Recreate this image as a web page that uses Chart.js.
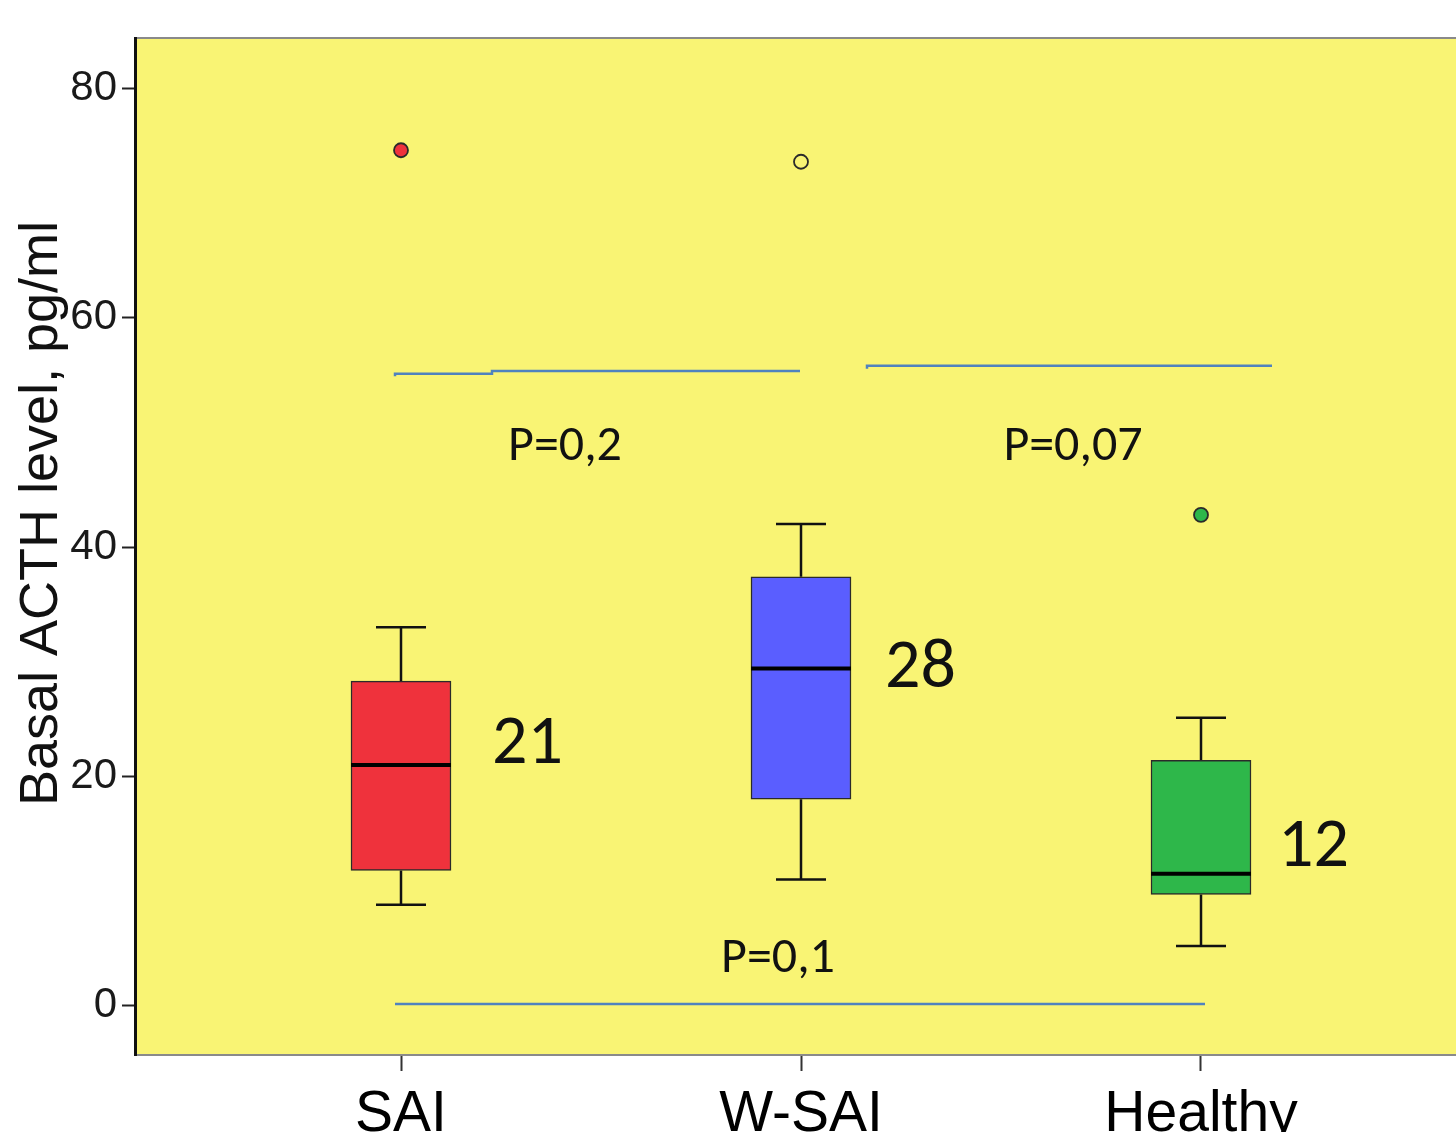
<!DOCTYPE html>
<html>
<head>
<meta charset="utf-8">
<script src="https://cdn.jsdelivr.net/npm/chart.js@4.4.1/dist/chart.umd.min.js"></script>
<style>
  html, body { margin: 0; padding: 0; background: #fff; }
  #acthChart { display: block; }
</style>
</head>
<body>
<canvas id="acthChart" width="1456" height="1132"></canvas>
<script>
// groups and box plot statistics (pg/ml)
const groups = ['SAI', 'W-SAI', 'Healthy'];
const groupPos = [1, 2, 3];
const whiskerLow = [8.8, 11.0, 5.2];
const q1 = [11.8, 18.0, 9.7];
const median = [21.0, 29.4, 11.5];
const q3 = [28.3, 37.4, 21.4];
const whiskerHigh = [33.0, 42.0, 25.1];
const outliers = [74.6, 73.6, 42.8];
const medianLabels = ['21', '28', '12'];
const yTicks = [0, 20, 40, 60, 80];

// comparison brackets (slightly stepped, as in the original figure)
const pairAX = [0.985, 1.2275, 1.865, 1.9975];
const pairAY = [54.9, 55.1, 55.35, 55.35];
const pairBX = [2.165, 2.68, 3.1775];
const pairBY = [55.55, 55.8, 55.8];
const pairCX = [0.985, 3.01];
const pairCY = [0.15, 0.15];
const pValues = ['P=0,2', 'P=0,07', 'P=0,1'];

// where the annotation texts sit, in axis units
const pValueSpots = [{ x: 1.41, y: 47.6 }, { x: 2.68, y: 47.6 }, { x: 1.9425, y: 2.9 }];
const medianLabelSpots = [{ x: 1.2275, y: 21.2 }, { x: 2.21, y: 27.8 }, { x: 3.1925, y: 12.2 }];

const boxColors = ['#ef323c', '#5a5eff', '#2eb74a'];
const outlierFill = ['#ef323c', 'rgba(0,0,0,0)', '#2eb74a'];
const capHalf = 0.0625;
const boxHalf = 0.125;

const whiskerPts = [];
const medianPts = [];
groupPos.forEach((x, i) => {
    whiskerPts.push(
        { x, y: q3[i] }, { x, y: whiskerHigh[i] }, { x, y: null },
        { x: x - capHalf, y: whiskerHigh[i] }, { x: x + capHalf, y: whiskerHigh[i] }, { x, y: null },
        { x, y: q1[i] }, { x, y: whiskerLow[i] }, { x, y: null },
        { x: x - capHalf, y: whiskerLow[i] }, { x: x + capHalf, y: whiskerLow[i] }, { x, y: null }
    );
    medianPts.push({ x: x - boxHalf, y: median[i] }, { x: x + boxHalf, y: median[i] }, { x, y: null });
});

const toPoints = (xs, ys) => xs.map((x, i) => ({ x, y: ys[i] }));

const bracketStyle = {
    type: 'line',
    borderColor: '#5082be',
    borderWidth: 2.5,
    pointRadius: 0,
    stepped: 'after',
    order: 4,
};

const plotDecor = {
    id: 'plotDecor',
    beforeDraw(chart) {
        const { ctx, chartArea: a } = chart;
        ctx.save();
        ctx.fillStyle = '#ffffff';
        ctx.fillRect(0, 0, chart.width, chart.height);
        ctx.fillStyle = '#f9f474';
        ctx.fillRect(a.left, a.top, a.right - a.left, a.bottom - a.top);
        ctx.strokeStyle = '#8a8a8a';
        ctx.lineWidth = 2;
        ctx.beginPath();
        ctx.moveTo(a.left, a.top);
        ctx.lineTo(a.right, a.top);
        ctx.stroke();
        ctx.restore();
    },
    afterDatasetsDraw(chart) {
        const { ctx, scales: { x, y } } = chart;
        ctx.save();
        ctx.fillStyle = '#111';
        ctx.textBaseline = 'alphabetic';

        ctx.font = '50px Carlito, Calibri, Lato, sans-serif';
        ctx.textAlign = 'center';
        pValues.forEach((t, i) => {
            ctx.fillText(t, x.getPixelForValue(pValueSpots[i].x), y.getPixelForValue(pValueSpots[i].y));
        });

        ctx.font = '70px Carlito, Calibri, Lato, sans-serif';
        ctx.textAlign = 'left';
        medianLabels.forEach((t, i) => {
            ctx.fillText(t, x.getPixelForValue(medianLabelSpots[i].x), y.getPixelForValue(medianLabelSpots[i].y));
        });

        // y axis title
        const a = chart.chartArea;
        ctx.translate(57, (a.top + a.bottom) / 2 - 33);
        ctx.rotate(-Math.PI / 2);
        ctx.textAlign = 'center';
        ctx.font = '54px "Liberation Sans", Arial, sans-serif';
        ctx.fillText('Basal ACTH level, pg/ml', 0, 0);
        ctx.restore();
    },
};

new Chart(document.getElementById('acthChart'), {
    type: 'line',
    data: {
        datasets: [
            {
                type: 'line',
                label: 'Median',
                data: medianPts,
                borderColor: '#000',
                borderWidth: 4,
                pointRadius: 0,
                order: 0,
            },
            {
                type: 'bar',
                label: 'IQR',
                data: groupPos.map((x, i) => ({ x, y: [q1[i], q3[i]] })),
                backgroundColor: boxColors,
                borderColor: '#2a2a2a',
                borderWidth: 1.5,
                borderSkipped: false,
                barThickness: 100,
                order: 1,
            },
            {
                type: 'line',
                label: 'Whiskers',
                data: whiskerPts,
                borderColor: '#111',
                borderWidth: 2.5,
                pointRadius: 0,
                order: 2,
            },
            {
                type: 'scatter',
                label: 'Outliers',
                data: groupPos.map((x, i) => ({ x, y: outliers[i] })),
                pointRadius: 7,
                pointBackgroundColor: outlierFill,
                pointBorderColor: '#2a2a2a',
                pointBorderWidth: 1.8,
                showLine: false,
                order: 3,
            },
            { ...bracketStyle, label: 'SAI vs W-SAI', data: toPoints(pairAX, pairAY) },
            { ...bracketStyle, label: 'W-SAI vs Healthy', data: toPoints(pairBX, pairBY) },
            { ...bracketStyle, label: 'SAI vs Healthy', data: toPoints(pairCX, pairCY), stepped: false },
        ],
    },
    options: {
        responsive: false,
        animation: false,
        layout: { autoPadding: false, padding: { top: 38, right: 0, bottom: 0, left: 0 } },
        plugins: {
            legend: { display: false },
            tooltip: { enabled: false },
        },
        scales: {
            x: {
                type: 'linear',
                min: 0.335,
                max: 3.6375,
                offset: false,
                afterBuildTicks(scale) {
                    scale.ticks = groupPos.map((v) => ({ value: v }));
                },
                afterFit(scale) {
                    scale.height = 77;
                    scale.paddingLeft = 0;
                    scale.paddingRight = 0;
                },
                ticks: {
                    autoSkip: false,
                    maxRotation: 0,
                    padding: 10,
                    color: '#000',
                    font: { family: '"Liberation Sans", Arial, sans-serif', size: 57 },
                    callback(value) {
                        const i = groupPos.indexOf(value);
                        return i >= 0 ? groups[i] : '';
                    },
                },
                grid: { drawOnChartArea: false, offset: false, tickLength: 16, tickColor: '#333', tickWidth: 2 },
                border: { color: '#8a8a8a', width: 2 },
            },
            y: {
                type: 'linear',
                min: -4.3,
                max: 84.39,
                afterBuildTicks(scale) {
                    scale.ticks = yTicks.map((v) => ({ value: v }));
                },
                afterFit(scale) {
                    scale.width = 135;
                    scale.paddingTop = 0;
                    scale.paddingBottom = 0;
                },
                ticks: {
                    padding: 5,
                    color: '#1a1a1a',
                    font: { family: '"Liberation Sans", Arial, sans-serif', size: 42 },
                },
                grid: { drawOnChartArea: false, tickLength: 13, tickColor: '#222', tickWidth: 2 },
                border: { color: '#111', width: 3 },
            },
        },
    },
    plugins: [plotDecor],
});
</script>
</body>
</html>
